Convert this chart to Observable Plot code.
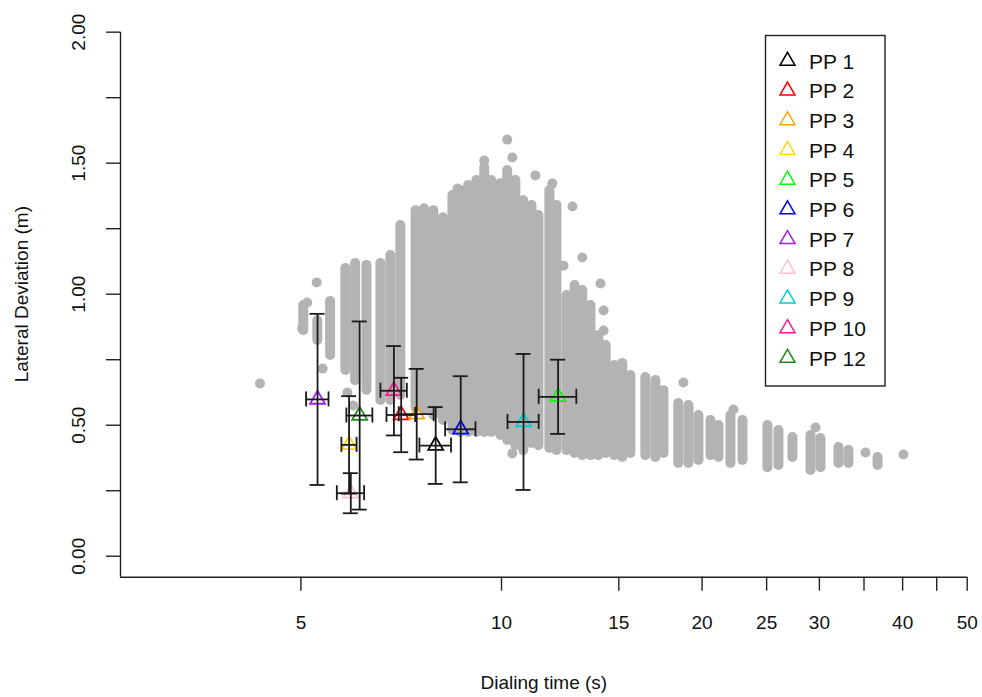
<!DOCTYPE html>
<html>
<head>
<meta charset="utf-8">
<script src="https://cdn.jsdelivr.net/npm/d3@7"></script>
<script src="https://cdn.jsdelivr.net/npm/@observablehq/plot@0.6"></script>
<style>
  html, body { margin: 0; padding: 0; background: #ffffff; }
  #chart { width: 982px; height: 697px; }
</style>
</head>
<body>
<div id="chart"></div>
<script>
// ---------- Participants (mean ± SD) ----------
const participants = ["PP 1","PP 2","PP 3","PP 4","PP 5","PP 6","PP 7","PP 8","PP 9","PP 10","PP 12"];
const ppColors = ["#000000","#FF0000","#FFA500","#FFD700","#00FF00","#0000FF","#A020F0","#FFC0CB","#00CDCD","#FF1493","#228B22"];
const timeMean = [7.965, 7.07, 7.46, 5.905, 12.16, 8.685, 5.295, 5.94, 10.79, 6.895, 6.125];
const timeSD   = [0.435, 0.35, 0.45, 0.155, 0.79, 0.455, 0.205, 0.28, 0.58, 0.315, 0.275];
const devMean  = [0.4225, 0.539, 0.542, 0.425, 0.6085, 0.4845, 0.5985, 0.2405, 0.5125, 0.6315, 0.537];
const devSD    = [0.1465, 0.142, 0.173, 0.186, 0.1415, 0.2025, 0.3265, 0.0765, 0.2595, 0.1705, 0.359];

// ---------- Background trials: dense vertical stacks of points (time, lowest and highest deviation) ----------
const colTime = [5.04,5.29,5.53,5.83,6.03,6.27,6.58,6.81,7.05,7.43,7.65,7.90,8.17,8.44,8.67,8.91,9.17,9.42,9.65,9.96,10.20,10.49,10.78,11.09,11.36,11.80,12.09,12.52,12.87,13.22,13.60,13.98,14.33,14.77,15.18,15.61,16.44,17.02,17.50,18.42,19.08,19.75,20.59,21.17,22.06,23.00,25.07,26.04,27.33,29.09,30.11,32.04,33.17,36.68];
const colLow  = [0.842,0.804,0.747,0.690,0.651,0.614,0.575,0.575,0.594,0.548,0.537,0.518,0.499,0.460,0.453,0.453,0.453,0.453,0.453,0.442,0.423,0.403,0.384,0.411,0.403,0.392,0.384,0.384,0.373,0.365,0.365,0.365,0.373,0.365,0.358,0.373,0.365,0.358,0.373,0.335,0.335,0.346,0.365,0.358,0.335,0.346,0.319,0.327,0.358,0.308,0.319,0.335,0.335,0.327];
const colHigh = [0.976,0.918,0.991,1.117,1.136,1.129,1.136,1.167,1.281,1.338,1.345,1.338,1.311,1.396,1.415,1.434,1.453,1.502,1.453,1.441,1.491,1.453,1.376,1.358,1.319,1.415,1.358,1.014,1.052,1.033,0.976,0.861,0.823,0.747,0.755,0.709,0.701,0.690,0.651,0.602,0.594,0.556,0.537,0.518,0.556,0.537,0.518,0.499,0.472,0.480,0.468,0.434,0.423,0.396];

// ---------- Background trials: isolated points ----------
const ptTime = [4.34,5.11,5.02,5.28,5.39,5.87,5.99,8.59,9.42,10.20,10.38,11.24,11.92,12.78,11.84,12.39,13.22,14.08,14.23,14.23,15.18,18.75,22.29,29.60,35.18,40.12,10.38];
const ptDev  = [0.659,0.968,0.869,1.045,0.716,0.625,0.575,1.403,1.510,1.590,1.522,1.453,1.422,1.335,1.155,1.109,1.140,1.041,0.938,0.861,0.720,0.663,0.560,0.491,0.396,0.388,0.392];

// ---------- Axes ----------
const xLimits = [2.68, 50];
const yLimits = [-0.08, 2.08];
const yAxisTop = 2.0;
const xTicks = [5,10,15,20,25,30,35,40,45,50];
const xTickLabels = ["5","10","15","20","25","30","","40","","50"];
const yTicks = [0,0.25,0.5,0.75,1,1.25,1.5,1.75,2];
const yLabelTicks = [0,0.5,1,1.5,2];
const xTitle = "Dialing time (s)";
const yTitle = "Lateral Deviation (m)";

// ---------- Build tables ----------
const columns = colTime.map((t, i) => ({t, lo: colLow[i], hi: colHigh[i]}));
const points = ptTime.map((t, i) => ({t, d: ptDev[i]}));
const pp = participants.map((name, i) => ({
  name, color: ppColors[i],
  t: timeMean[i], tLo: timeMean[i] - timeSD[i], tHi: timeMean[i] + timeSD[i],
  d: devMean[i], dLo: devMean[i] - devSD[i], dHi: devMean[i] + devSD[i]
}));

const GRAY = "#B3B3B3";
const BAR = "#1a1a1a";
const triR = 5.57;

const chart = Plot.plot({
  width: 982,
  height: 697,
  marginLeft: 120,
  marginRight: 15.3,
  marginTop: 10.7,
  marginBottom: 120.3,
  x: {type: "log", domain: xLimits},
  y: {domain: yLimits},
  style: {fontFamily: "'Liberation Sans', Arial, sans-serif", fontSize: "19px", background: "#ffffff", color: "#000000"},
  marks: [
    // background trials
    Plot.ruleX(columns, {x: "t", y1: "hi", y2: "lo", stroke: GRAY, strokeWidth: 10, strokeLinecap: "round", insetTop: 5, insetBottom: 5}),
    Plot.dot(points, {x: "t", y: "d", r: 5, fill: GRAY}),
    // participant means
    Plot.dot(pp, {x: "t", y: "d", symbol: "triangle", r: triR, stroke: "color", fill: "none", strokeWidth: 1.8}),
    // error bars (vertical)
    Plot.ruleX(pp, {x: "t", y1: "dHi", y2: "dLo", stroke: BAR, strokeWidth: 1.8}),
    Plot.ruleY(pp, {y: "dHi", x1: "t", x2: "t", insetLeft: -7.5, insetRight: -7.5, stroke: BAR, strokeWidth: 1.8}),
    Plot.ruleY(pp, {y: "dLo", x1: "t", x2: "t", insetLeft: -7.5, insetRight: -7.5, stroke: BAR, strokeWidth: 1.8}),
    // error bars (horizontal)
    Plot.ruleY(pp, {y: "d", x1: "tLo", x2: "tHi", stroke: BAR, strokeWidth: 1.8}),
    Plot.ruleX(pp, {x: "tLo", y1: "d", y2: "d", insetTop: -7.5, insetBottom: -7.5, stroke: BAR, strokeWidth: 1.8}),
    Plot.ruleX(pp, {x: "tHi", y1: "d", y2: "d", insetTop: -7.5, insetBottom: -7.5, stroke: BAR, strokeWidth: 1.8}),
    // axis lines (L shape)
    Plot.ruleY([yLimits[0]], {x1: xLimits[0], x2: xLimits[1], stroke: "#222", strokeWidth: 1.4}),
    Plot.ruleX([xLimits[0]], {y1: yLimits[0], y2: yAxisTop, stroke: "#222", strokeWidth: 1.4}),
    // x axis
    Plot.axisX(xTicks, {tickSize: 14, tickPadding: 24.5, tickFormat: (d) => xTickLabels[xTicks.indexOf(d)], label: null, stroke: "#222", strokeWidth: 1.4, fill: "#111"}),
    // y axis ticks
    Plot.axisY(yTicks, {tickSize: 14, tickFormat: () => "", label: null, stroke: "#222", strokeWidth: 1.4}),
    Plot.text(yLabelTicks, {y: d => d, text: d => d.toFixed(2), frameAnchor: "left", dx: -42, rotate: -90, textAnchor: "middle", lineAnchor: "middle", fill: "#111"}),
    // titles
    Plot.text([xTitle], {frameAnchor: "bottom", dy: 105.5, text: d => d, lineAnchor: "middle", textAnchor: "middle", fill: "#111"}),
    Plot.text([yTitle], {frameAnchor: "left", dx: -99, rotate: -90, text: d => d, lineAnchor: "middle", textAnchor: "middle", fill: "#111"})
  ]
});

document.getElementById("chart").appendChild(chart);

// ---------- Legend (inside the plot, top right) ----------
const svg = d3.select(chart);
const lg = svg.append("g").attr("class", "legend").attr("text-anchor", "start");
lg.append("rect")
  .attr("x", 765.5).attr("y", 35.5)
  .attr("width", 119.5).attr("height", 350.5)
  .attr("fill", "#ffffff").attr("stroke", "#222").attr("stroke-width", 1.4);
const triPath = d3.symbol(d3.symbolTriangle, triR * triR * Math.PI)();
participants.forEach((name, i) => {
  const cy = 61 + i * 29.7;
  lg.append("path")
    .attr("d", triPath)
    .attr("transform", `translate(787.5,${cy})`)
    .attr("fill", "none").attr("stroke", ppColors[i]).attr("stroke-width", 1.5);
  lg.append("text")
    .attr("x", 809).attr("y", cy).attr("dy", "0.36em")
    .attr("text-anchor", "start")
    .attr("fill", "#111")
    .style("font-family", "'Liberation Sans', Arial, sans-serif")
    .style("font-size", "21px")
    .text(name);
});
</script>
</body>
</html>
